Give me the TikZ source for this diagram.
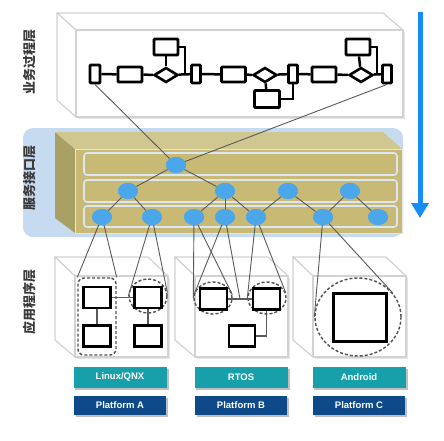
\documentclass[tikz,border=0pt]{standalone}
\usepackage{fontspec}
\setmainfont{Liberation Sans}
\newfontfamily\cjk{Noto Sans CJK SC}
\usetikzlibrary{shapes.geometric,arrows.meta}
\definecolor{edgegray}{HTML}{D2D2D2}
\definecolor{nodeblue}{HTML}{4BA6EA}
\definecolor{bgblue}{HTML}{C6DAF0}
\definecolor{ylw}{HTML}{C8B974}
\definecolor{topolive}{HTML}{CFC690}
\definecolor{sideolive}{HTML}{A9A066}
\definecolor{rowedge}{HTML}{DCE7F2}
\definecolor{teal1}{HTML}{179FAA}
\definecolor{navy1}{HTML}{0E4A8A}
\definecolor{arrowblue}{HTML}{168CF5}
\definecolor{labelgray}{HTML}{3A3A3A}
\definecolor{edgedark}{HTML}{5A5A5A}
\definecolor{dashgray}{HTML}{505050}
\begin{document}
\begin{tikzpicture}[x=1pt,y=-1pt,
  boxedge/.style={draw=edgegray, line width=1.2pt, line join=round, fill=white},
  prect/.style={rectangle, draw=black, line width=2.9pt, fill=white, rounded corners=1pt, inner sep=0pt},
  pdia/.style={diamond, draw=black, line width=2.6pt, fill=white, inner sep=0pt, minimum width=24pt, minimum height=15pt},
  pline/.style={black, line width=2.5pt},
  snode/.style={ellipse, fill=nodeblue, minimum width=20pt, minimum height=16pt, inner sep=0pt},
  sedge/.style={draw=edgedark, line width=0.9pt},
  dashshape/.style={draw=dashgray, line width=1.4pt, dash pattern=on 3pt off 2pt},
  arect/.style={rectangle, draw=black, line width=2.8pt, fill=white, inner sep=0pt},
  aline/.style={draw=edgedark, line width=1.6pt},
  rowbox/.style={draw=rowedge, line width=1.6pt, fill=ylw, rounded corners=3pt},
  osbox/.style={rectangle, fill=teal1, text=white, font=\bfseries\fontsize{9.5}{11}\selectfont, minimum width=93pt, minimum height=21pt, inner sep=0pt},
  platbox/.style={rectangle, fill=navy1, text=white, font=\bfseries\fontsize{9.5}{11}\selectfont, minimum width=92pt, minimum height=19pt, inner sep=0pt},
  layerlabel/.style={rotate=90, font=\cjk\bfseries\fontsize{13}{14}\selectfont, text=labelgray, inner sep=0pt}
]
\useasboundingbox (0,0) rectangle (444,440);
\fill[white] (0,0) rectangle (444,440);

% ---------- top box (business process layer)
\fill[black!10] (78,32) rectangle (405,119);
\draw[boxedge] (57,13) -- (383,13) -- (403,30) -- (76,30) -- cycle;
\draw[boxedge] (57,13) -- (76,30) -- (76,117) -- (57,100) -- cycle;
\draw[boxedge] (76,30) rectangle (403,117);

% ---------- service layer
\fill[bgblue, rounded corners=10pt] (23,128) rectangle (403,237);
\fill[sideolive] (55,132) -- (75,149) -- (75,233) -- (55,218) -- cycle;
\fill[topolive] (55,132) -- (383,132) -- (402,149) -- (75,149) -- cycle;
\draw[draw=rowedge, line width=1pt, fill=ylw] (75,149) rectangle (402,233);
\draw[rowbox] (84,153) rectangle (397,175);
\draw[rowbox] (84,180) rectangle (397,202);
\draw[rowbox] (84,206) rectangle (397,227);

% ---------- application boxes
\foreach \bx in {55,175,293}{
  \fill[black!10] ({\bx+22},278) rectangle ({\bx+115},359);
  \draw[boxedge] (\bx,257) -- ({\bx+93},257) -- ({\bx+113},276) -- ({\bx+20},276) -- cycle;
  \draw[boxedge] (\bx,257) -- ({\bx+20},276) -- ({\bx+20},357) -- (\bx,340) -- cycle;
  \draw[boxedge] ({\bx+20},276) rectangle ({\bx+113},357);
}

% ---------- platform labels
\foreach \cx in {120,241,359}{
  \fill[black!25] ({\cx-45},369) rectangle ({\cx+49},390);
  \fill[black!25] ({\cx-44},398) rectangle ({\cx+48},417);
}
\node[osbox] (osA) at (120,377) {Linux/QNX};
\node[osbox] (osB) at (241,377) {RTOS};
\node[osbox] (osC) at (359,377) {Android};
\node[platbox] (plA) at (120,405) {Platform A};
\node[platbox] (plB) at (241,405) {Platform B};
\node[platbox] (plC) at (359,405) {Platform C};

% ---------- process diagram nodes
\node[prect, minimum width=10pt, minimum height=18pt] (p1) at (95,74) {};
\node[prect, minimum width=24pt, minimum height=15pt] (p2) at (130,74.5) {};
\node[pdia] (d1) at (166,75) {};
\node[prect, minimum width=24pt, minimum height=16pt] (t1) at (166,47) {};
\node[prect, minimum width=9pt, minimum height=18pt] (p3) at (196,74) {};
\node[prect, minimum width=24pt, minimum height=15pt] (p4) at (233.5,74.5) {};
\node[pdia] (d2) at (265,75) {};
\node[prect, minimum width=25pt, minimum height=17pt] (b2) at (267,99) {};
\node[prect, minimum width=9pt, minimum height=18pt] (p5) at (293,74) {};
\node[prect, minimum width=24pt, minimum height=15pt] (p6) at (324,74.5) {};
\node[pdia] (d3) at (361,75) {};
\node[prect, minimum width=24pt, minimum height=16pt] (t3) at (358,47) {};
\node[prect, minimum width=9pt, minimum height=18pt] (p7) at (387,74) {};
\coordinate (j1) at (185,74);
\coordinate (j3) at (377,74);

\begin{scope}[pline]
  \draw (p1) -- (p2);
  \draw (p2) -- (d1);
  \draw (d1) -- (p3);
  \draw (p3) -- (p4);
  \draw (p4) -- (d2);
  \draw (d2) -- (p5);
  \draw (p5) -- (p6);
  \draw (p6) -- (d3);
  \draw (d3) -- (p7);
  \draw (t1) -- (d1);
  \draw (t1.east) -| (j1);
  \draw (d2) -- (b2);
  \draw (b2.east) -| (p5.south);
  \draw (t3) -- (d3);
  \draw (t3.east) -| (j3);
\end{scope}

% ---------- service nodes
\node[snode] (s1) at (176,165) {};
\node[snode] (s2a) at (128,191) {};
\node[snode] (s2b) at (225,191) {};
\node[snode] (s2c) at (288,191) {};
\node[snode] (s2d) at (350,191) {};
\node[snode] (s3a) at (102,217) {};
\node[snode] (s3b) at (152,217) {};
\node[snode] (s3c) at (194,217) {};
\node[snode] (s3d) at (225,217) {};
\node[snode] (s3e) at (256,217) {};
\node[snode] (s3f) at (323,217) {};
\node[snode] (s3g) at (378,217) {};

% ---------- application shapes
\node[dashshape, rectangle, rounded corners=6pt, minimum width=38pt, minimum height=77pt] (dA) at (97,316.5) {};
\node[dashshape, ellipse, minimum width=38pt, minimum height=34pt] (eA2) at (148,296) {};
\node[dashshape, ellipse, minimum width=38pt, minimum height=32pt] (eB1) at (213,298) {};
\node[dashshape, ellipse, minimum width=38pt, minimum height=32pt] (eB2) at (267,298) {};
\node[dashshape, ellipse, minimum width=86pt, minimum height=78pt] (eC) at (358,317) {};

\node[arect, minimum width=27pt, minimum height=21pt] (a1) at (97,297.5) {};
\node[arect, minimum width=27pt, minimum height=21pt] (a2) at (148,297.5) {};
\node[arect, minimum width=27pt, minimum height=21pt] (a3) at (97,336) {};
\node[arect, minimum width=27pt, minimum height=21pt] (a4) at (148,336) {};
\node[arect, minimum width=27pt, minimum height=21pt] (bb1) at (213.5,299) {};
\node[arect, minimum width=27pt, minimum height=21pt] (bb2) at (266.5,299) {};
\node[arect, minimum width=26pt, minimum height=21pt] (bb3) at (242,336) {};
\node[arect, minimum width=53pt, minimum height=48pt] (cc) at (360,317.5) {};
\coordinate (bmid) at (240,299);

\begin{scope}[aline]
  \draw (a1) -- (a2);
  \draw (a1) -- (a3);
  \draw (a2) -- (a4);
  \draw (bb1) -- (bb2);
  \draw (bb2.south) |- (bb3.east);
\end{scope}

% ---------- connectors between layers
\begin{scope}[sedge]
  \draw (p1.south) -- (s1);
  \draw (p7.south) -- (s1);
  \draw (s1) -- (s2a);
  \draw (s1) -- (s2b);
  \draw (s2a) -- (s3a);
  \draw (s2a) -- (s3b);
  \draw (s2b) -- (s3c);
  \draw (s2b) -- (s3d);
  \draw (s2b) -- (s3e);
  \draw (s2c) -- (s3e);
  \draw (s2c) -- (s3f);
  \draw (s2d) -- (s3f);
  \draw (s2d) -- (s3g);
  \draw (s3a) -- (dA.north west);
  \draw (s3a) -- (dA.north east);
  \draw (s3b) -- (eA2.west);
  \draw (s3b) -- (eA2.10);
  \draw (s3c) -- (eB1.west);
  \draw (s3c) -- (eB1.10);
  \draw (s3d) -- (eB1.175);
  \draw (s3d) -- (bmid);
  \draw (s3e) -- (eB2.west);
  \draw (s3e) -- (eB2.15);
  \draw (s3f) -- (eC.west);
  \draw (s3f) -- (eC.35);
\end{scope}
% redraw nodes on top of connector ends
\foreach \n/\x/\y in {s1/176/165,s2a/128/191,s2b/225/191,s2c/288/191,s2d/350/191,s3a/102/217,s3b/152/217,s3c/194/217,s3d/225/217,s3e/256/217,s3f/323/217,s3g/378/217}{
  \fill[nodeblue] (\x,\y) ellipse [x radius=10pt, y radius=8pt];
}

% ---------- layer labels
\node[layerlabel] (L1) at (30,62) {业务过程层};
\node[layerlabel] (L2) at (30,178) {服务接口层};
\node[layerlabel] (L3) at (30,302) {应用程序层};

% ---------- direction arrow
\coordinate (arT) at (420,12);
\coordinate (arB) at (420,218);
\draw[arrowblue, line width=5pt, -{Triangle[width=17pt,length=15pt]}] (arT) -- (arB);
\end{tikzpicture}
\end{document}
